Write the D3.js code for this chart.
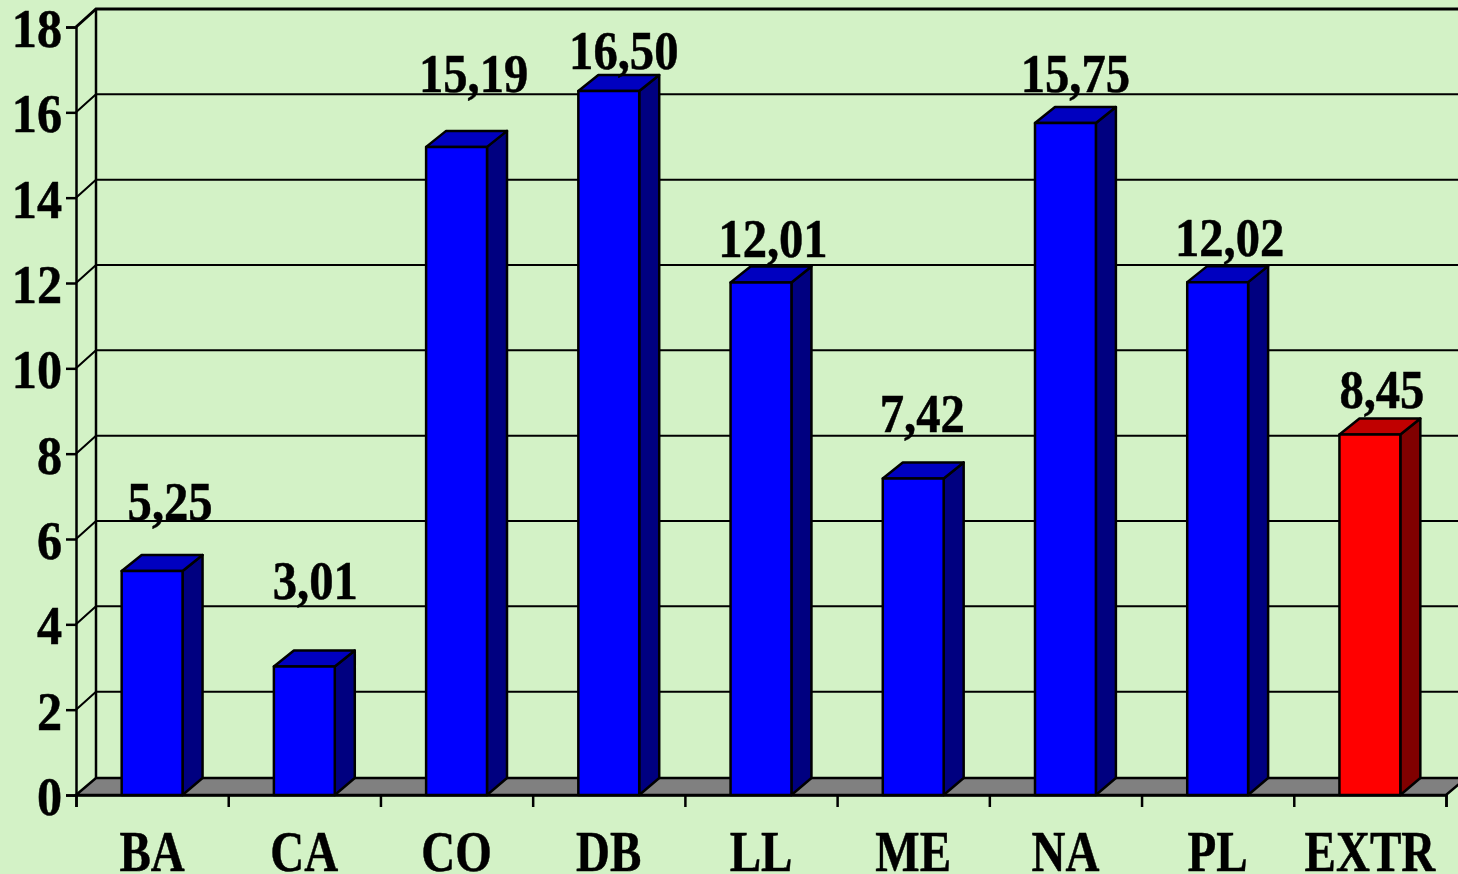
<!DOCTYPE html>
<html>
<head>
<meta charset="utf-8">
<script src="https://cdn.jsdelivr.net/npm/d3@7"></script>
<style>
html, body { margin: 0; padding: 0; background: #d3f2c6; overflow: hidden; }
text { font-family: "Liberation Serif", serif; font-weight: bold; fill: #000; stroke: #000; stroke-width: 0.5px; }
</style>
</head>
<body>
<svg id="chart" width="1458" height="874"></svg>
<script>
const categories = ["BA", "CA", "CO", "DB", "LL", "ME", "NA", "PL", "EXTR"];
const values = [5.25, 3.01, 15.19, 16.50, 12.01, 7.42, 15.75, 12.02, 8.45];
const highlighted = ["EXTR"];
const yTicks = [0, 2, 4, 6, 8, 10, 12, 14, 16, 18];

const width = 1458;
const height = 874;
const left = 76, right = 1446, base = 795, top18 = 27;
const depthX = 20, depthY = 16; // 3d offset of the bars
const wallDepthY = 18, floorDepthY = 17; // back wall sits a bit further up

// the value labels were dragged by hand in the original, one offset per bar
const labelShift = [[18, -35], [11, -52], [17, -39], [15, -6], [12, -10], [9, -30], [10, -15], [12, -10], [12, -10]];

const svg = d3.select("#chart");

const xScale = d3.scaleBand()
    .domain(categories)
    .range([left, right])
    .paddingInner(0.6)
    .paddingOuter(0.3);

const yScale = d3.scaleLinear()
    .domain([0, 18])
    .range([base, top18]);

const edgeScale = d3.scaleLinear()
    .domain([0, categories.length])
    .range([left, right]);

const pts = a => a.map(p => p.join(",")).join(" ");

// Grid on back wall and side wall
const grid = svg.append("g").attr("stroke", "#000").attr("fill", "none");
grid.selectAll(".back")
    .data(yTicks.slice(1))
    .enter()
    .append("polyline")
    .attr("class", "back")
    .attr("stroke-width", d => d === 18 ? 3 : 2)
    .attr("points", d => pts([
        [left, yScale(d)],
        [left + depthX, yScale(d) - wallDepthY],
        [width + 10, yScale(d) - wallDepthY]
    ]));

// Walls
grid.append("line")
    .attr("x1", left + depthX).attr("x2", left + depthX)
    .attr("y1", yScale(18) - wallDepthY).attr("y2", base - floorDepthY)
    .attr("stroke-width", 2.5);

// Floor
svg.append("polygon")
    .attr("fill", "#808080")
    .attr("stroke", "#000")
    .attr("stroke-width", 2.5)
    .attr("points", pts([
        [left, base],
        [left + depthX, base - floorDepthY],
        [right + depthX, base - floorDepthY],
        [right, base]
    ]));

// Axes
const yAxis = svg.append("g")
    .attr("transform", `translate(${left}, 0)`)
    .call(d3.axisLeft(yScale).tickValues(yTicks).tickSize(10).tickPadding(4).tickFormat(d3.format("d")));
yAxis.selectAll("text")
    .attr("font-size", 54)
    .attr("dy", "0.36em")
    .attr("y", 0)
    .attr("x", -15)
    .attr("transform", "scale(0.93, 1)");

const xEdges = svg.append("g")
    .attr("transform", `translate(0, ${base})`)
    .call(d3.axisBottom(edgeScale).tickValues(d3.range(categories.length + 1)).tickSize(12).tickFormat(""));

const xAxis = svg.append("g")
    .attr("transform", `translate(0, ${base})`)
    .call(d3.axisBottom(xScale).tickSize(0).tickPadding(0));
xAxis.select(".domain").remove();
xAxis.selectAll("text")
    .attr("font-size", 56)
    .attr("dy", 0)
    .attr("y", 76)
    .attr("transform", "scale(0.84, 1)");

svg.selectAll(".domain, .tick line")
    .attr("stroke", "#000")
    .attr("stroke-width", 2.5);

// Bars
const bars = svg.append("g")
    .selectAll(".bar")
    .data(categories.map((c, i) => ({ category: c, value: values[i], i: i })))
    .enter()
    .append("g")
    .attr("class", "bar")
    .attr("stroke", "#000")
    .attr("stroke-width", 2.5)
    .attr("stroke-linejoin", "round");

const isRed = d => highlighted.includes(d.category);

bars.append("polygon")
    .attr("fill", d => isRed(d) ? "#800000" : "#000080")
    .attr("points", d => {
        const x = xScale(d.category) + xScale.bandwidth();
        const y = yScale(d.value);
        return pts([[x, y], [x + depthX, y - depthY], [x + depthX, base - floorDepthY], [x, base]]);
    });

bars.append("polygon")
    .attr("fill", d => isRed(d) ? "#c00000" : "#0000c0")
    .attr("points", d => {
        const x = xScale(d.category);
        const w = xScale.bandwidth();
        const y = yScale(d.value);
        return pts([[x, y], [x + depthX, y - depthY], [x + w + depthX, y - depthY], [x + w, y]]);
    });

bars.append("rect")
    .attr("fill", d => isRed(d) ? "#ff0000" : "#0000ff")
    .attr("x", d => xScale(d.category))
    .attr("y", d => yScale(d.value))
    .attr("width", xScale.bandwidth())
    .attr("height", d => base - yScale(d.value));

// Value labels
svg.append("g")
    .selectAll("text")
    .data(categories.map((c, i) => ({ category: c, value: values[i], i: i })))
    .enter()
    .append("text")
    .attr("text-anchor", "middle")
    .attr("font-size", 54)
    .attr("transform", d => {
        const x = xScale(d.category) + xScale.bandwidth() / 2 + labelShift[d.i][0];
        const y = yScale(d.value) - depthY + labelShift[d.i][1];
        return `translate(${x}, ${y}) scale(0.9, 1)`;
    })
    .text(d => d.value.toFixed(2).replace(".", ","));
</script>
</body>
</html>
